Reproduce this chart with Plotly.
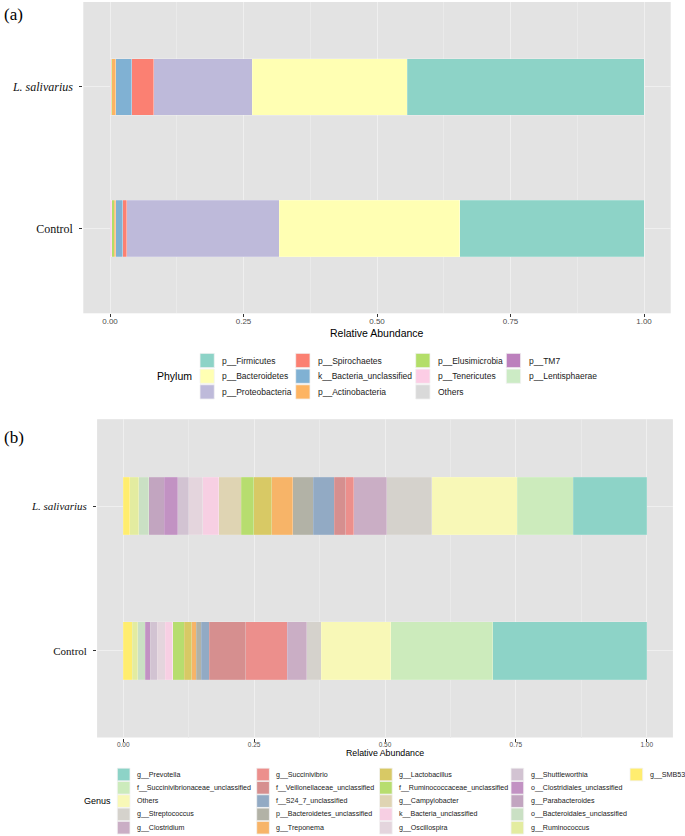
import plotly.graph_objects as go

W, H = 685, 836

# ---------------- data ----------------
groups = ["Control", "L. salivarius"]
group_ticktext = ["Control", "<i>L. salivarius</i>"]

phylum_names = ["p__Firmicutes", "p__Bacteroidetes", "p__Proteobacteria", "p__Spirochaetes",
                "k__Bacteria_unclassified", "p__Actinobacteria", "p__Elusimicrobia",
                "p__Tenericutes", "Others", "p__TM7", "p__Lentisphaerae"]
phylum_colors = ["#8DD3C7", "#FFFFB3", "#BEBADA", "#FB8072", "#80B1D3", "#FDB462",
                 "#B3DE69", "#FCCDE5", "#D9D9D9", "#BC80BD", "#CCEBC5"]
phylum_control = [0.3446, 0.3384, 0.2852, 0.0075, 0.0137, 0.0030, 0.0040, 0.0030, 0.0004, 0.0001, 0.0001]
phylum_lsal = [0.4433, 0.2903, 0.1841, 0.0412, 0.0305, 0.0075, 0.0005, 0.0020, 0.0004, 0.0001, 0.0001]

genus_names = ["g__Prevotella", "f__Succinivibrionaceae_unclassified", "Others", "g__Streptococcus",
               "g__Clostridium", "g__Succinivibrio", "f__Veillonellaceae_unclassified",
               "f__S24_7_unclassified", "p__Bacteroidetes_unclassified", "g__Treponema",
               "g__Lactobacillus", "f__Ruminococcaceae_unclassified", "g__Campylobacter",
               "k__Bacteria_unclassified", "g__Oscillospira", "g__Shuttleworthia",
               "o__Clostridiales_unclassified", "g__Parabacteroides", "o__Bacteroidales_unclassified",
               "g__Ruminococcus", "g__SMB53"]
genus_colors = ["#8DD3C7", "#CCEBBC", "#F8F8B7", "#D5D2CC", "#CAAEC5", "#EC8F8C", "#D68F8F",
                "#92AAC4", "#B2B2A6", "#F7B468", "#D8C965", "#B7DD6F", "#DFD4B3", "#F7CFE3",
                "#E4D5DD", "#D2C3D2", "#C292C3", "#C2A5C0", "#CAE0C4", "#E3ECA0", "#FFED6F"]
genus_control = [0.2942, 0.1949, 0.1332, 0.0273, 0.0371, 0.0795, 0.0695, 0.0153, 0.0101, 0.0082,
                 0.0147, 0.0216, 0.0000, 0.0147, 0.0153, 0.0134, 0.0096, 0.0000, 0.0134, 0.0109, 0.0172]
genus_lsal = [0.1408, 0.1070, 0.1630, 0.0854, 0.0636, 0.0153, 0.0218, 0.0401, 0.0388, 0.0407,
              0.0338, 0.0243, 0.0432, 0.0300, 0.0267, 0.0210, 0.0267, 0.0287, 0.0191, 0.0172, 0.0128]

x_ticks = [0, 0.25, 0.5, 0.75, 1.0]
x_ticktext = ["0.00", "0.25", "0.50", "0.75", "1.00"]
x_minor = [0.125, 0.375, 0.625, 0.875]

# ---------------- helpers ----------------
def fx(p):
    return p / W


def fy(p):
    return 1 - p / H


SANS = "Liberation Sans, Arial, sans-serif"
SERIF = "Liberation Serif, Times New Roman, serif"
BG = "#E3E3E3"
GRID = "#EFEFEF"
GRID_MINOR = "#EAEAEA"

fig = go.Figure()

# panel (a) bars: first level ends up at the far (right) end of the stack
for i in reversed(range(len(phylum_names))):
    fig.add_trace(go.Bar(
        y=groups, x=[phylum_control[i], phylum_lsal[i]], orientation="h",
        name=phylum_names[i], marker=dict(color=phylum_colors[i],
                                          line=dict(color="rgba(255,255,255,0.35)", width=0.6)),
        width=0.4, xaxis="x", yaxis="y", showlegend=False))

# panel (b) bars
for i in reversed(range(len(genus_names))):
    fig.add_trace(go.Bar(
        y=groups, x=[genus_control[i], genus_lsal[i]], orientation="h",
        name=genus_names[i], marker=dict(color=genus_colors[i],
                                         line=dict(color="rgba(255,255,255,0.3)", width=0.5)),
        width=0.4, xaxis="x2", yaxis="y2", showlegend=False))


def xaxis_cfg(dom, anchor, fsize, standoff):
    return dict(domain=dom, anchor=anchor, range=[-0.05, 1.05], tickvals=x_ticks,
                ticktext=x_ticktext, ticks="outside", ticklen=3, tickwidth=1,
                tickcolor="#333333", tickfont=dict(family=SANS, size=fsize, color="#4D4D4D"),
                showgrid=True, gridcolor=GRID, gridwidth=1, zeroline=False, showline=False,
                minor=dict(tickvals=x_minor, showgrid=True, gridcolor=GRID_MINOR, gridwidth=0.5,
                           ticks=""),
                ticklabelstandoff=standoff, fixedrange=True)


def yaxis_cfg(dom, anchor, fsize):
    return dict(domain=dom, anchor=anchor, type="category", categoryorder="array",
                categoryarray=groups, range=[-0.6, 1.6], tickvals=groups, ticktext=group_ticktext,
                ticks="outside", ticklen=3, tickwidth=1, tickcolor="#333333",
                tickfont=dict(family=SERIF, size=fsize, color="#111111"),
                showgrid=True, gridcolor=GRID, gridwidth=1, zeroline=False, showline=False,
                ticklabelstandoff=4, fixedrange=True)


fig.update_layout(
    width=W, height=H, margin=dict(l=0, r=0, t=0, b=0),
    paper_bgcolor="white", plot_bgcolor=BG, barmode="stack", showlegend=False,
    xaxis=xaxis_cfg([fx(83.3), fx(670.7)], "y", 8, -3),
    yaxis=yaxis_cfg([fy(313.3), fy(2)], "x", 12),
    xaxis2=xaxis_cfg([fx(97.1), fx(672.9)], "y2", 6.5, -2),
    yaxis2=yaxis_cfg([fy(737.5), fy(419.2)], "x2", 11),
)

annotations = []
shapes = []

# panel labels
annotations.append(dict(text="(a)", x=fx(2), y=fy(15), xref="paper", yref="paper",
                        xanchor="left", yanchor="middle", showarrow=False,
                        font=dict(family=SERIF, size=17, color="black")))
annotations.append(dict(text="(b)", x=fx(2), y=fy(437), xref="paper", yref="paper",
                        xanchor="left", yanchor="middle", showarrow=False,
                        font=dict(family=SERIF, size=17, color="black")))

# axis titles
annotations.append(dict(text="Relative Abundance", x=0.5, xref="x domain", y=fy(333), yref="paper",
                        xanchor="center", yanchor="middle", showarrow=False,
                        font=dict(family=SANS, size=10.5, color="black")))
annotations.append(dict(text="Relative Abundance", x=0.5, xref="x2 domain", y=fy(752.5), yref="paper",
                        xanchor="center", yanchor="middle", showarrow=False,
                        font=dict(family=SANS, size=8.8, color="black")))


def build_legend(names, colors, title, title_right, col_lefts, row0, row_step, nrows,
                 key, gap, fsize, tsize):
    mid_row = row0 + row_step * (nrows - 1) / 2
    annotations.append(dict(text=title, x=fx(title_right), y=fy(mid_row), xref="paper", yref="paper",
                            xanchor="right", yanchor="middle", showarrow=False,
                            font=dict(family=SANS, size=tsize, color="black")))
    for k, (nm, col) in enumerate(zip(names, colors)):
        c, r = divmod(k, nrows)
        left = col_lefts[c]
        cy = row0 + r * row_step
        shapes.append(dict(type="rect", xref="paper", yref="paper",
                           x0=fx(left), x1=fx(left + key), y0=fy(cy - key / 2), y1=fy(cy + key / 2),
                           fillcolor=col, line=dict(color="#F2F2F2", width=0.8), layer="above"))
        annotations.append(dict(text=nm, x=fx(left + key + gap), y=fy(cy), xref="paper", yref="paper",
                                xanchor="left", yanchor="middle", showarrow=False,
                                font=dict(family=SANS, size=fsize, color="#1A1A1A")))


build_legend(phylum_names, phylum_colors, "Phylum", 194.3, [200.0, 295.7, 415.7, 506.3],
             360.5, 15.7, 3, 14.3, 6, 8.5, 10.5)
build_legend(genus_names, genus_colors, "Genus", 113.3, [117.3, 256.7, 379.5, 511.0, 630.0],
             774.5, 13.3, 5, 12.7, 5, 7.1, 9)

fig.update_layout(annotations=annotations, shapes=shapes)

fig.write_html("out.html", config={"displayModeBar": False},
               post_script="document.body.style.margin='0';document.body.style.overflow='hidden';")
